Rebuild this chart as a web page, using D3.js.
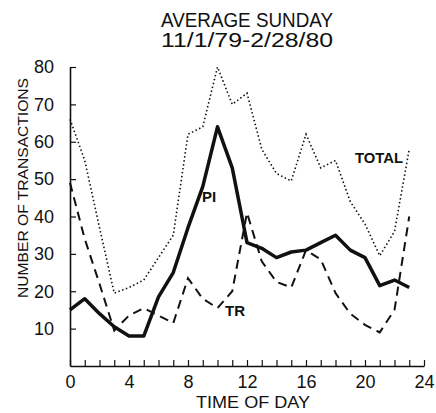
<!DOCTYPE html>
<html>
<head>
<meta charset="utf-8">
<script src="https://cdn.jsdelivr.net/npm/d3@7"></script>
<style>
  body { margin: 0; background: #fff; }
  text { font-family: "Liberation Sans", Arial, sans-serif; fill: #111; }
</style>
</head>
<body>
<svg id="chart" width="436" height="413"></svg>
<script>
// data (hour of day -> transactions)
var hours = [0, 1, 2, 3, 4, 5, 6, 7, 8, 9, 10, 11, 12, 13, 14, 15, 16, 17, 18, 19, 20, 21, 22, 23];
var piValues = [15, 18, 14, 10.5, 8, 8, 18.5, 25, 37, 48, 64, 53, 33, 31.5, 29, 30.5, 31, 33, 35, 31, 29, 21.5, 23, 21];
var trValues = [49, 34, 22, 9.5, 13.5, 15.5, 13.5, 11.5, 23.5, 18, 15.5, 20, 41, 28, 22.5, 21, 31, 28.5, 19.5, 14, 11, 9, 15, 40];
var totalValues = [66, 55, 37, 19.5, 21, 23, 29, 35, 62, 64, 80, 70, 73, 58, 51.5, 49.5, 62, 53, 55, 44, 38, 29.5, 36, 58];
var xTickLabels = [0, 4, 8, 12, 16, 20, 24];
var yTickLabels = [10, 20, 30, 40, 50, 60, 70, 80];

var svg = d3.select('#chart');

// scales
var xScale = d3.scaleLinear().domain([0, 24]).range([70, 424]);
var yScale = d3.scaleLinear().domain([0, 80]).range([366, 67]);

// title
svg.append('text').attr('x', 247).attr('y', 27).attr('text-anchor', 'middle')
   .attr('font-size', 20).attr('textLength', 172).attr('lengthAdjust', 'spacingAndGlyphs')
   .text('AVERAGE SUNDAY');
svg.append('text').attr('x', 247).attr('y', 47).attr('text-anchor', 'middle')
   .attr('font-size', 20).attr('textLength', 172).attr('lengthAdjust', 'spacingAndGlyphs')
   .text('11/1/79-2/28/80');

// axes: hourly minor ticks pointing up, labels every 4 hours
var xAxis = d3.axisBottom(xScale).tickValues(d3.range(0, 25)).tickSizeInner(-6).tickSizeOuter(0)
              .tickFormat(function(d){ return xTickLabels.indexOf(d) >= 0 ? d : ''; });
var yAxis = d3.axisLeft(yScale).tickValues(yTickLabels).tickSizeInner(-6).tickSizeOuter(0);

var gx = svg.append('g').attr('transform', 'translate(0,' + yScale(0) + ')').call(xAxis);
var gy = svg.append('g').attr('transform', 'translate(' + xScale(0) + ',0)').call(yAxis);

gx.select('.domain').attr('stroke', '#111').attr('stroke-width', 1.6);
gy.select('.domain').attr('stroke', '#111').attr('stroke-width', 1.6);
gx.selectAll('.tick line').attr('stroke', '#111').attr('stroke-width', 1.2);
gy.selectAll('.tick line').attr('stroke', '#111').attr('stroke-width', 1.2);
gx.selectAll('.tick text').attr('font-size', 18).attr('dy', 0).attr('y', 22).attr('fill', '#111')
  .attr('font-family', '"Liberation Sans", Arial, sans-serif');
gy.selectAll('.tick text').attr('font-size', 18).attr('x', -16).attr('fill', '#111')
  .attr('font-family', '"Liberation Sans", Arial, sans-serif');

// axis titles
svg.append('text').attr('x', 253).attr('y', 408).attr('text-anchor', 'middle')
   .attr('font-size', 16).attr('textLength', 114).attr('lengthAdjust', 'spacingAndGlyphs')
   .text('TIME OF DAY');
svg.append('text').attr('transform', 'translate(28,188) rotate(-90)').attr('text-anchor', 'middle')
   .attr('font-size', 15).attr('textLength', 220).attr('lengthAdjust', 'spacingAndGlyphs')
   .text('NUMBER OF TRANSACTIONS');

// lines
function makeLine(values) {
  return d3.line()
           .x(function(d, i){ return xScale(hours[i]); })
           .y(function(d){ return yScale(d); })(values);
}

svg.append('path').attr('d', makeLine(totalValues)).attr('fill', 'none')
   .attr('stroke', '#111').attr('stroke-width', 1.6).attr('stroke-dasharray', '1.5,2.5');
svg.append('path').attr('d', makeLine(trValues)).attr('fill', 'none')
   .attr('stroke', '#111').attr('stroke-width', 2).attr('stroke-dasharray', '9,6');
svg.append('path').attr('d', makeLine(piValues)).attr('fill', 'none')
   .attr('stroke', '#111').attr('stroke-width', 3.5).attr('stroke-linejoin', 'round');

// series labels
svg.append('text').attr('x', 202).attr('y', 202).attr('font-size', 15).attr('font-weight', 'bold').text('PI');
svg.append('text').attr('x', 225).attr('y', 316).attr('font-size', 15).attr('font-weight', 'bold').text('TR');
svg.append('text').attr('x', 355).attr('y', 163).attr('font-size', 15).attr('font-weight', 'bold')
   .attr('textLength', 48).attr('lengthAdjust', 'spacingAndGlyphs').text('TOTAL');
</script>
</body>
</html>
